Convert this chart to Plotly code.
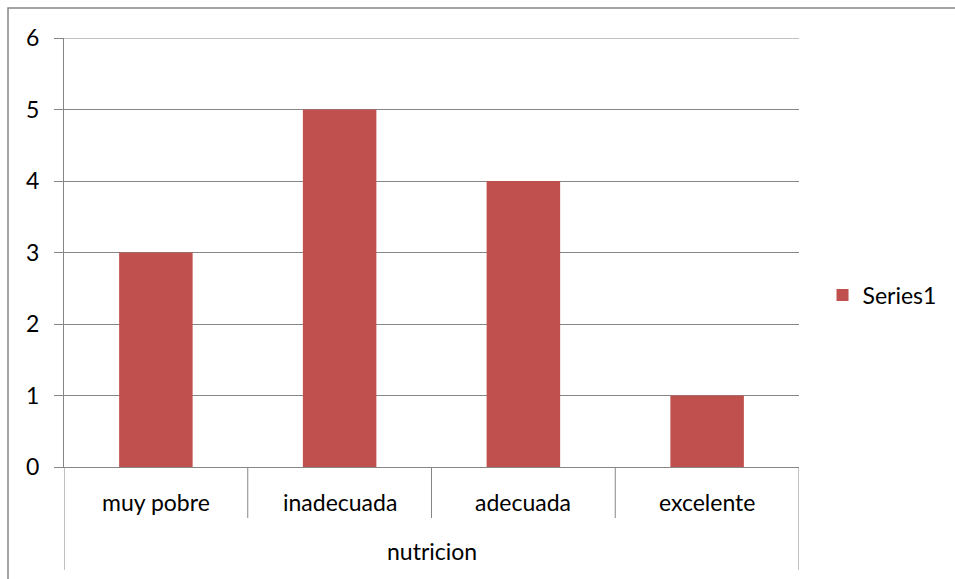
import plotly.graph_objects as go

# Data
categories = ["muy pobre", "inadecuada", "adecuada", "excelente"]
values = [3, 5, 4, 1]
group_label = "nutricion"
series_name = "Series1"
y_ticks = [0, 1, 2, 3, 4, 5, 6]

BAR_COLOR = "#C0504D"
LINE_COLOR = "#868686"
FONT = "Lato"
FS = 23

W, H = 955, 579
L, R, T, B = 64, 156, 38, 112
plot_h = H - T - B

def py(px):
    """Convert a pixel offset below the x axis into paper y."""
    return -px / plot_h

fig = go.Figure()
fig.add_trace(go.Bar(
    x=list(range(len(categories))),
    y=values,
    name=series_name,
    marker=dict(color=BAR_COLOR, line=dict(width=0)),
    width=0.4,
    showlegend=True,
))

shapes = []
# top gridline at the upper edge of the value range
shapes.append(dict(type="line", xref="paper", yref="y",
                   x0=0, x1=1, y0=y_ticks[-1], y1=y_ticks[-1],
                   line=dict(color=LINE_COLOR, width=1)))
# short separators between categories
for i in range(1, len(categories)):
    shapes.append(dict(type="line", xref="x", yref="paper",
                       x0=i - 0.5, x1=i - 0.5, y0=0, y1=py(51),
                       line=dict(color=LINE_COLOR, width=1)))
# long outer separators enclosing the group
for xv in (-0.5, len(categories) - 0.5):
    shapes.append(dict(type="line", xref="x", yref="paper",
                       x0=xv, x1=xv, y0=0, y1=py(103),
                       line=dict(color=LINE_COLOR, width=1)))
# chart border
shapes.append(dict(type="rect", xref="paper", yref="paper",
                   x0=(8 - L) / (W - L - R), x1=2,
                   y0=-1, y1=1 + (T - 8) / plot_h,
                   line=dict(color=LINE_COLOR, width=1.5)))

annotations = []
for i, c in enumerate(categories):
    annotations.append(dict(x=i, y=py(35), xref="x", yref="paper",
                            text=c, showarrow=False, yanchor="middle",
                            font=dict(family=FONT, size=FS, color="black")))
annotations.append(dict(x=(len(categories) - 1) / 2, y=py(84), xref="x",
                        yref="paper", text=group_label, showarrow=False,
                        yanchor="middle",
                        font=dict(family=FONT, size=FS, color="black")))

fig.update_layout(
    width=W, height=H,
    margin=dict(l=L, r=R, t=T, b=B),
    paper_bgcolor="white", plot_bgcolor="white",
    font=dict(family=FONT, size=FS, color="black"),
    bargap=0.6,
    xaxis=dict(range=[-0.5, len(categories) - 0.5], showticklabels=False,
               showgrid=False, zeroline=False, showline=True,
               linecolor=LINE_COLOR, linewidth=1, ticks=""),
    yaxis=dict(range=[0, 6], tickvals=y_ticks, showgrid=True,
               gridcolor=LINE_COLOR, gridwidth=1, zeroline=False,
               showline=True, linecolor=LINE_COLOR, linewidth=1,
               ticks="outside", ticklen=9, tickcolor=LINE_COLOR,
               ticklabelstandoff=10,
               tickfont=dict(family=FONT, size=FS, color="black")),
    legend=dict(x=1.032, y=(467 - 295) / plot_h, xanchor="left",
                yanchor="middle",
                font=dict(family=FONT, size=FS, color="black"),
                bgcolor="rgba(0,0,0,0)"),
    shapes=shapes,
    annotations=annotations,
)

fig.write_html("out.html")
